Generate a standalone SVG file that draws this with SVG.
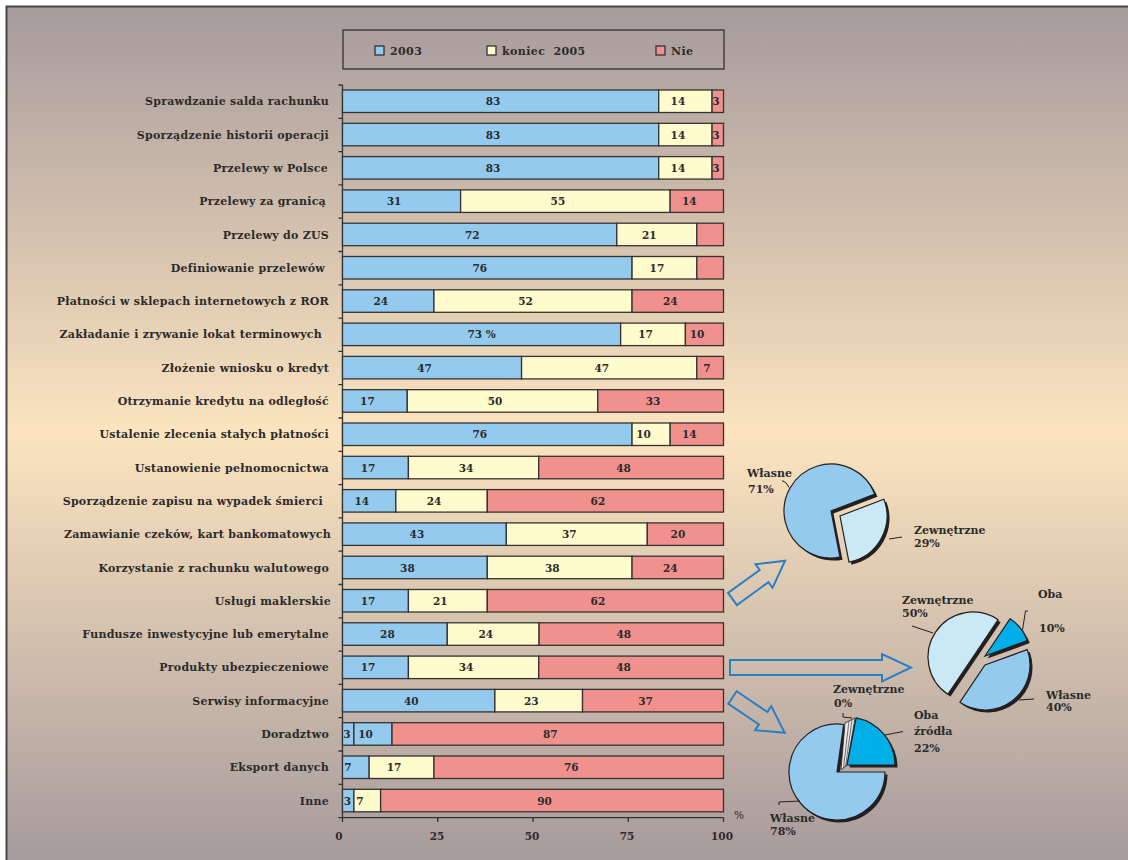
<svg xmlns="http://www.w3.org/2000/svg" xmlns:xlink="http://www.w3.org/1999/xlink" width="1128" height="860" viewBox="0 0 1128 860">
<defs>
<linearGradient id="bg" gradientUnits="userSpaceOnUse" x1="0" y1="6" x2="0" y2="860">
<stop offset="0" stop-color="#a69a9c"/>
<stop offset="0.5" stop-color="#fce4bf"/>
<stop offset="1" stop-color="#a69a9c"/>
</linearGradient>
<path id="p1a" d="M831,511 L839.97,557.14 A47,47 0 1 1 874.88,494.16 Z"/>
<path id="p1b" d="M840,516 L883.88,499.16 A47,47 0 0 1 848.97,562.14 Z"/>
<path id="p2a" d="M973,657 L947.84,694.31 A45,45 0 0 1 998.16,619.69 Z"/>
<path id="p2b" d="M985,656 L1010.16,618.69 A45,45 0 0 1 1027.29,640.61 Z"/>
<path id="p2c" d="M985,665 L1027.29,649.61 A45,45 0 0 1 959.84,702.31 Z"/>
<path id="p3a" d="M837,772 L885,772 A48,48 0 1 1 843.68,724.47 Z"/>
<path id="p3b" d="M847,765 L856.16,717.88 A48,48 0 0 1 895,765 Z"/>
</defs>
<style>
text{font-family:"DejaVu Serif","Liberation Serif",serif;font-weight:bold;fill:#2b2b2b}
.cat{font-size:11px;text-anchor:end;letter-spacing:0.25px}
.val{font-size:10.5px;text-anchor:middle}
.leg{font-size:11px;letter-spacing:0.4px}
.pl{font-size:11px}
.ax{font-size:10.5px;text-anchor:middle}
.b{fill:#93caee;stroke:#333;stroke-width:1.3}
.y{fill:#fffbcc;stroke:#333;stroke-width:1.3}
.r{fill:#f0918e;stroke:#333;stroke-width:1.3}
.axis{stroke:#333;stroke-width:1.3;fill:none}
.sh{fill:#231f20}
.s{stroke:#231f20;stroke-width:1.2}
.lead{stroke:#231f20;stroke-width:1;fill:none}
.arrow{fill:none;stroke:#2a7ec4;stroke-width:2;stroke-linejoin:miter}
</style>
<rect x="0" y="0" width="1128" height="860" fill="#ffffff"/>
<rect x="6.5" y="6.5" width="1125" height="860" fill="url(#bg)"/>
<path d="M6.5,866 L6.5,6.5 L1128,6.5" fill="none" stroke="#4a4446" stroke-width="2"/>

<g id="legend">
<rect x="343" y="30" width="381" height="39" fill="none" stroke="#333" stroke-width="1.3"/>
<rect x="375" y="46" width="9" height="9" class="b" stroke-width="1"/>
<text class="leg" x="390" y="55">2003</text>
<rect x="487" y="46" width="9" height="9" class="y" stroke-width="1"/>
<text class="leg" x="502" y="55" word-spacing="4">koniec 2005</text>
<rect x="656" y="46" width="9" height="9" class="r" stroke-width="1"/>
<text class="leg" x="671" y="55">Nie</text>
</g>

<g id="axes">
<path class="axis" d="M342.5,85 L342.5,817.6 L723.5,817.6"/>
<path class="axis" d="M338.5,85 H342.5 M338.5,118.3 H342.5 M338.5,151.6 H342.5 M338.5,184.9 H342.5 M338.5,218.2 H342.5 M338.5,251.5 H342.5 M338.5,284.8 H342.5 M338.5,318.1 H342.5 M338.5,351.4 H342.5 M338.5,384.7 H342.5 M338.5,418 H342.5 M338.5,451.3 H342.5 M338.5,484.6 H342.5 M338.5,517.9 H342.5 M338.5,551.2 H342.5 M338.5,584.5 H342.5 M338.5,617.8 H342.5 M338.5,651.1 H342.5 M338.5,684.4 H342.5 M338.5,717.7 H342.5 M338.5,751 H342.5 M338.5,784.3 H342.5 M338.5,817.6 H342.5"/>
<path class="axis" d="M342.5,817.6 V822 M437.75,817.6 V822 M533,817.6 V822 M628.25,817.6 V822 M723.5,817.6 V822"/>
<text class="ax" x="339" y="840">0</text>
<text class="ax" x="437" y="840">25</text>
<text class="ax" x="532" y="840">50</text>
<text class="ax" x="627" y="840">75</text>
<text class="ax" x="722" y="840">100</text>
<text class="ax" x="739" y="819" style="font-weight:normal">%</text>
</g>

<g id="row1"><text class="cat" x="329" y="105.3">Sprawdzanie salda rachunku</text>
<rect class="b" x="342.5" y="90" width="316.23" height="22.5"/><rect class="y" x="658.73" y="90" width="53.34" height="22.5"/><rect class="r" x="712.07" y="90" width="11.43" height="22.5"/>
<text class="val" x="493.1" y="105.3">83</text><text class="val" x="677.9" y="105.3">14</text><text class="val" x="715.8" y="105.3">3</text></g>

<g id="row2"><text class="cat" x="329" y="138.6">Sporządzenie historii operacji</text>
<rect class="b" x="342.5" y="123.3" width="316.23" height="22.5"/><rect class="y" x="658.73" y="123.3" width="53.34" height="22.5"/><rect class="r" x="712.07" y="123.3" width="11.43" height="22.5"/>
<text class="val" x="493.1" y="138.6">83</text><text class="val" x="677.9" y="138.6">14</text><text class="val" x="715.8" y="138.6">3</text></g>

<g id="row3"><text class="cat" x="328" y="171.9">Przelewy w Polsce</text>
<rect class="b" x="342.5" y="156.6" width="316.23" height="22.5"/><rect class="y" x="658.73" y="156.6" width="53.34" height="22.5"/><rect class="r" x="712.07" y="156.6" width="11.43" height="22.5"/>
<text class="val" x="493.1" y="171.9">83</text><text class="val" x="677.9" y="171.9">14</text><text class="val" x="715.8" y="171.9">3</text></g>

<g id="row4"><text class="cat" x="326" y="205.2">Przelewy za granicą</text>
<rect class="b" x="342.5" y="189.9" width="118.11" height="22.5"/><rect class="y" x="460.61" y="189.9" width="209.55" height="22.5"/><rect class="r" x="670.16" y="189.9" width="53.34" height="22.5"/>
<text class="val" x="394.05" y="205.2">31</text><text class="val" x="557.9" y="205.2">55</text><text class="val" x="689.3" y="205.2">14</text></g>

<g id="row5"><text class="cat" x="329" y="238.5">Przelewy do ZUS</text>
<rect class="b" x="342.5" y="223.2" width="274.32" height="22.5"/><rect class="y" x="616.82" y="223.2" width="80.01" height="22.5"/><rect class="r" x="696.83" y="223.2" width="26.67" height="22.5"/>
<text class="val" x="472.2" y="238.5">72</text><text class="val" x="649.3" y="238.5">21</text></g>

<g id="row6"><text class="cat" x="325" y="271.8">Definiowanie przelewów</text>
<rect class="b" x="342.5" y="256.5" width="289.56" height="22.5"/><rect class="y" x="632.06" y="256.5" width="64.77" height="22.5"/><rect class="r" x="696.83" y="256.5" width="26.67" height="22.5"/>
<text class="val" x="479.8" y="271.8">76</text><text class="val" x="656.9" y="271.8">17</text></g>

<g id="row7"><text class="cat" x="329" y="305.1">Płatności w sklepach internetowych z ROR</text>
<rect class="b" x="342.5" y="289.8" width="91.44" height="22.5"/><rect class="y" x="433.94" y="289.8" width="198.12" height="22.5"/><rect class="r" x="632.06" y="289.8" width="91.44" height="22.5"/>
<text class="val" x="380.7" y="305.1">24</text><text class="val" x="525.5" y="305.1">52</text><text class="val" x="670.3" y="305.1">24</text></g>

<g id="row8"><text class="cat" x="322" y="338.4">Zakładanie i zrywanie lokat terminowych</text>
<rect class="b" x="342.5" y="323.1" width="278.13" height="22.5"/><rect class="y" x="620.63" y="323.1" width="64.77" height="22.5"/><rect class="r" x="685.4" y="323.1" width="38.1" height="22.5"/>
<text class="val" x="481.6" y="338.4">73 %</text><text class="val" x="645.5" y="338.4">17</text><text class="val" x="696.95" y="338.4">10</text></g>

<g id="row9"><text class="cat" x="329" y="371.7">Złożenie wniosku o kredyt</text>
<rect class="b" x="342.5" y="356.4" width="179.07" height="22.5"/><rect class="y" x="521.57" y="356.4" width="175.26" height="22.5"/><rect class="r" x="696.83" y="356.4" width="26.67" height="22.5"/>
<text class="val" x="424.5" y="371.7">47</text><text class="val" x="601.7" y="371.7">47</text><text class="val" x="707" y="371.7">7</text></g>

<g id="row10"><text class="cat" x="329" y="405">Otrzymanie kredytu na odległość</text>
<rect class="b" x="342.5" y="389.7" width="64.77" height="22.5"/><rect class="y" x="407.27" y="389.7" width="190.5" height="22.5"/><rect class="r" x="597.77" y="389.7" width="125.73" height="22.5"/>
<text class="val" x="367.4" y="405">17</text><text class="val" x="495" y="405">50</text><text class="val" x="653.1" y="405">33</text></g>

<g id="row11"><text class="cat" x="329" y="438.3">Ustalenie zlecenia stałych płatności</text>
<rect class="b" x="342.5" y="423" width="289.56" height="22.5"/><rect class="y" x="632.06" y="423" width="38.1" height="22.5"/><rect class="r" x="670.16" y="423" width="53.34" height="22.5"/>
<text class="val" x="479.8" y="438.3">76</text><text class="val" x="643.6" y="438.3">10</text><text class="val" x="689.3" y="438.3">14</text></g>

<g id="row12"><text class="cat" x="329" y="471.6">Ustanowienie pełnomocnictwa</text>
<rect class="b" x="342.5" y="456.3" width="65.91" height="22.5"/><rect class="y" x="408.41" y="456.3" width="130.31" height="22.5"/><rect class="r" x="538.72" y="456.3" width="184.78" height="22.5"/>
<text class="val" x="368" y="471.6">17</text><text class="val" x="466.1" y="471.6">34</text><text class="val" x="623.6" y="471.6">48</text></g>

<g id="row13"><text class="cat" x="323" y="504.9">Sporządzenie zapisu na wypadek śmierci</text>
<rect class="b" x="342.5" y="489.6" width="53.34" height="22.5"/><rect class="y" x="395.84" y="489.6" width="91.44" height="22.5"/><rect class="r" x="487.28" y="489.6" width="236.22" height="22.5"/>
<text class="val" x="361.7" y="504.9">14</text><text class="val" x="434.1" y="504.9">24</text><text class="val" x="597.9" y="504.9">62</text></g>

<g id="row14"><text class="cat" x="331" y="538.2">Zamawianie czeków, kart bankomatowych</text>
<rect class="b" x="342.5" y="522.9" width="163.83" height="22.5"/><rect class="y" x="506.33" y="522.9" width="140.97" height="22.5"/><rect class="r" x="647.3" y="522.9" width="76.2" height="22.5"/>
<text class="val" x="416.9" y="538.2">43</text><text class="val" x="569.3" y="538.2">37</text><text class="val" x="677.9" y="538.2">20</text></g>

<g id="row15"><text class="cat" x="329" y="571.5">Korzystanie z rachunku walutowego</text>
<rect class="b" x="342.5" y="556.2" width="144.78" height="22.5"/><rect class="y" x="487.28" y="556.2" width="144.78" height="22.5"/><rect class="r" x="632.06" y="556.2" width="91.44" height="22.5"/>
<text class="val" x="407.4" y="571.5">38</text><text class="val" x="552.2" y="571.5">38</text><text class="val" x="670.3" y="571.5">24</text></g>

<g id="row16"><text class="cat" x="331" y="604.8">Usługi maklerskie</text>
<rect class="b" x="342.5" y="589.5" width="65.91" height="22.5"/><rect class="y" x="408.41" y="589.5" width="78.87" height="22.5"/><rect class="r" x="487.28" y="589.5" width="236.22" height="22.5"/>
<text class="val" x="368" y="604.8">17</text><text class="val" x="440.3" y="604.8">21</text><text class="val" x="597.9" y="604.8">62</text></g>

<g id="row17"><text class="cat" x="329" y="638.1">Fundusze inwestycyjne lub emerytalne</text>
<rect class="b" x="342.5" y="622.8" width="104.78" height="22.5"/><rect class="y" x="447.28" y="622.8" width="91.82" height="22.5"/><rect class="r" x="539.1" y="622.8" width="184.4" height="22.5"/>
<text class="val" x="387.4" y="638.1">28</text><text class="val" x="485.7" y="638.1">24</text><text class="val" x="623.8" y="638.1">48</text></g>

<g id="row18"><text class="cat" x="329" y="671.4">Produkty ubezpieczeniowe</text>
<rect class="b" x="342.5" y="656.1" width="65.91" height="22.5"/><rect class="y" x="408.41" y="656.1" width="130.31" height="22.5"/><rect class="r" x="538.72" y="656.1" width="184.78" height="22.5"/>
<text class="val" x="368" y="671.4">17</text><text class="val" x="466.1" y="671.4">34</text><text class="val" x="623.6" y="671.4">48</text></g>

<g id="row19"><text class="cat" x="329" y="704.7">Serwisy informacyjne</text>
<rect class="b" x="342.5" y="689.4" width="152.4" height="22.5"/><rect class="y" x="494.9" y="689.4" width="87.63" height="22.5"/><rect class="r" x="582.53" y="689.4" width="140.97" height="22.5"/>
<text class="val" x="411.2" y="704.7">40</text><text class="val" x="531.2" y="704.7">23</text><text class="val" x="645.5" y="704.7">37</text></g>

<g id="row20"><text class="cat" x="329" y="738">Doradztwo</text>
<rect class="b" x="342.5" y="722.7" width="11.43" height="22.5"/><rect class="b" x="353.93" y="722.7" width="38.1" height="22.5"/><rect class="r" x="392.03" y="722.7" width="331.47" height="22.5"/>
<text class="val" x="347" y="738">3</text><text class="val" x="365.5" y="738">10</text><text class="val" x="550.3" y="738">87</text></g>

<g id="row21"><text class="cat" x="329" y="771.3">Eksport danych</text>
<rect class="b" x="342.5" y="756" width="26.67" height="22.5"/><rect class="y" x="369.17" y="756" width="64.77" height="22.5"/><rect class="r" x="433.94" y="756" width="289.56" height="22.5"/>
<text class="val" x="348" y="771.3">7</text><text class="val" x="394.1" y="771.3">17</text><text class="val" x="571.2" y="771.3">76</text></g>

<g id="row22"><text class="cat" x="329" y="804.6">Inne</text>
<rect class="b" x="342.5" y="789.3" width="11.43" height="22.5"/><rect class="y" x="353.93" y="789.3" width="26.67" height="22.5"/><rect class="r" x="380.6" y="789.3" width="342.9" height="22.5"/>
<text class="val" x="347.5" y="804.6">3</text><text class="val" x="360" y="804.6">7</text><text class="val" x="544.5" y="804.6">90</text></g>

<g id="connectors">
<path class="arrow" transform="translate(732.5,599) rotate(-36)" d="M0,-7.5 L39,-7.5 L39,-14.5 L65,0 L39,14.5 L39,7.5 L0,7.5 Z"/>
<path class="arrow" d="M730,660 L882,660 L882,654 L911,667.5 L882,681.5 L882,675 L730,675 Z"/>
<path class="arrow" transform="translate(732.5,697.5) rotate(34)" d="M0,-7.5 L37,-7.5 L37,-14.5 L63,0 L37,14.5 L37,7.5 L0,7.5 Z"/>
</g>

<g id="pie1">
<use xlink:href="#p1a" class="sh" transform="translate(2.5,2.5)"/>
<use xlink:href="#p1b" class="sh" transform="translate(2.5,2.5)"/>
<use xlink:href="#p1a" class="s" fill="#93caee"/>
<use xlink:href="#p1b" class="s" fill="#cbe9f5"/>
<path class="lead" d="M782,480.5 Q787,482 789,487.5"/>
<path class="lead" d="M889,539 L902,537"/>
<text class="pl" x="747" y="477">Własne</text>
<text class="pl" x="748" y="493">71%</text>
<text class="pl" x="914" y="534">Zewnętrzne</text>
<text class="pl" x="914" y="547">29%</text>
</g>

<g id="pie2">
<use xlink:href="#p2a" class="sh" transform="translate(2.5,2.5)"/>
<use xlink:href="#p2b" class="sh" transform="translate(2.5,2.5)"/>
<use xlink:href="#p2c" class="sh" transform="translate(2.5,2.5)"/>
<use xlink:href="#p2a" class="s" fill="#cbe9f5"/>
<use xlink:href="#p2b" class="s" fill="#00aee8"/>
<use xlink:href="#p2c" class="s" fill="#93caee"/>
<path class="lead" d="M912,626 L933,633"/>
<path class="lead" d="M1028,611 L1025.5,611 L1022.5,630"/>
<path class="lead" d="M1019,700 L1034,699"/>
<text class="pl" x="902" y="604">Zewnętrzne</text>
<text class="pl" x="902" y="617">50%</text>
<text class="pl" x="1038" y="598">Oba</text>
<text class="pl" x="1039" y="632">10%</text>
<text class="pl" x="1046" y="699">Własne</text>
<text class="pl" x="1046" y="711">40%</text>
</g>

<g id="pie3">
<use xlink:href="#p3a" class="sh" transform="translate(2.5,2.5)"/>
<use xlink:href="#p3b" class="sh" transform="translate(2.5,2.5)"/>
<use xlink:href="#p3a" class="s" fill="#93caee"/>
<path d="M841,770 L845,723 L855,718 L847,765 Z" fill="#e8e8e8" stroke="#231f20" stroke-width="0.8"/>
<path d="M843.5,768 L849,721 M845.5,767 L852,719.5" stroke="#231f20" stroke-width="0.6"/>
<use xlink:href="#p3b" class="s" fill="#00aee8"/>
<path class="lead" d="M843,713 L843,717 L852,718"/>
<path class="lead" d="M885,735 L903,731.5"/>
<path class="lead" d="M779,805 L779,802 L800,801"/>
<text class="pl" x="833" y="693">Zewnętrzne</text>
<text class="pl" x="834" y="707">0%</text>
<text class="pl" x="914" y="719">Oba</text>
<text class="pl" x="914" y="735">źródła</text>
<text class="pl" x="914" y="752">22%</text>
<text class="pl" x="770" y="822">Własne</text>
<text class="pl" x="770" y="835">78%</text>
</g>
</svg>
